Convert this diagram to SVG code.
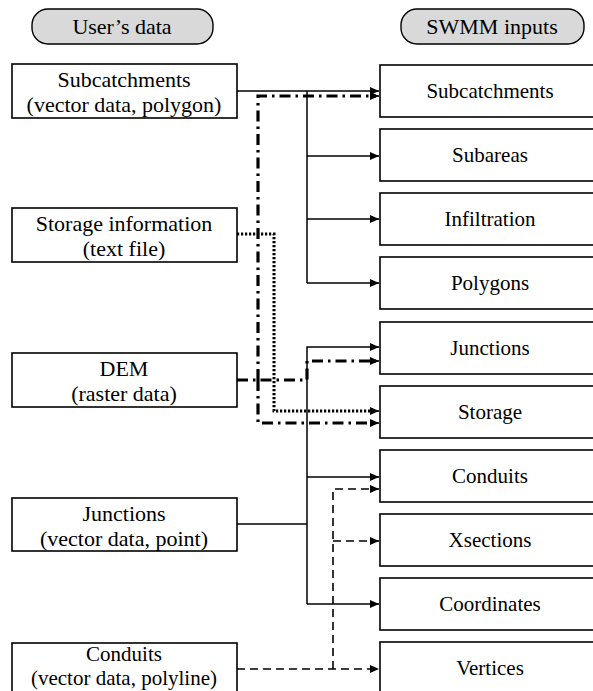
<svg xmlns="http://www.w3.org/2000/svg" width="593" height="691" viewBox="0 0 593 691">
<style>
text{font-family:"Liberation Serif","Times New Roman",serif;font-size:21px;fill:#000;text-anchor:middle}
.l{font-size:22px}
.box{fill:#fff;stroke:#000;stroke-width:1.6}
.pill{fill:#d9d9d9;stroke:#000;stroke-width:1.4}
.solid{fill:none;stroke:#000;stroke-width:1.5}
.dash{fill:none;stroke:#000;stroke-width:1.6;stroke-dasharray:8 5}
.dashdot{fill:none;stroke:#000;stroke-width:3.2;stroke-dasharray:11 5 2.5 5}
.dot{fill:none;stroke:#000;stroke-width:3;stroke-dasharray:2.2 1.8}
.arr{fill:none;stroke:#000;stroke-width:1.5}
</style>
<defs>
<marker id="ah" markerUnits="userSpaceOnUse" markerWidth="9" markerHeight="8" refX="9" refY="4" orient="auto">
<path d="M0,0 L9,4 L0,8 z" fill="#000"/>
</marker>
</defs>
<rect width="593" height="691" fill="#fff"/>
<g id="hdr-user"><rect class="pill" x="32" y="9" width="181" height="35" rx="16"/><text class="l" x="122" y="34">User’s data</text></g>
<g id="hdr-swmm"><rect class="pill" x="401" y="9" width="183" height="35" rx="16"/><text class="l" x="492" y="34">SWMM inputs</text></g>

<g id="connectors">
<path class="solid" d="M237,91 H379" marker-end="url(#ah)"/>
<path class="solid" d="M307,91 V283"/>
<path class="solid" d="M307,156 H379" marker-end="url(#ah)"/>
<path class="solid" d="M307,219 H379" marker-end="url(#ah)"/>
<path class="solid" d="M307,283 H379" marker-end="url(#ah)"/>
<path class="solid" d="M237,524 H307"/>
<path class="solid" d="M307,604 V347 H379" marker-end="url(#ah)"/>
<path class="solid" d="M307,477 H379" marker-end="url(#ah)"/>
<path class="solid" d="M307,604 H379" marker-end="url(#ah)"/>
<path class="dash" d="M237,669 H379" marker-end="url(#ah)"/>
<path class="dash" d="M333,669 V489 H379" marker-end="url(#ah)"/>
<path class="dash" d="M333,541 H379" marker-end="url(#ah)"/>
<path class="dot" d="M237,234 H274 V411 H376"/>
<path class="arr" d="M370,411 H379" marker-end="url(#ah)"/>
<path class="dashdot" d="M237,380 H307 V361 H376"/>
<path class="dashdot" d="M258,380 V96 H376"/>
<path class="dashdot" d="M258,380 V423 H376"/>
<path class="arr" d="M370,361 H379" marker-end="url(#ah)"/>
<path class="arr" d="M370,96 H379" marker-end="url(#ah)"/>
<path class="arr" d="M370,423 H379" marker-end="url(#ah)"/>
</g>

<g id="u-subcatchments"><rect class="box" x="12" y="64" width="225" height="54"/><text class="l" x="124" y="87">Subcatchments</text><text class="l" x="124" y="112">(vector data, polygon)</text></g>
<g id="u-storage"><rect class="box" x="12" y="208" width="225" height="54"/><text class="l" x="124" y="231">Storage information</text><text class="l" x="124" y="256">(text file)</text></g>
<g id="u-dem"><rect class="box" x="12" y="353" width="225" height="54"/><text class="l" x="124" y="376">DEM</text><text class="l" x="124" y="401">(raster data)</text></g>
<g id="u-junctions"><rect class="box" x="12" y="498" width="225" height="53"/><text class="l" x="124" y="521">Junctions</text><text class="l" x="124" y="546">(vector data, point)</text></g>
<g id="u-conduits"><rect class="box" x="12" y="643" width="225" height="60"/><text x="124" y="661">Conduits</text><text x="124" y="685">(vector data, polyline)</text></g>

<g id="s-subcatchments"><rect class="box" x="380" y="65" width="216" height="52"/><text x="490" y="98">Subcatchments</text></g>
<g id="s-subareas"><rect class="box" x="380" y="129" width="216" height="52"/><text x="490" y="162">Subareas</text></g>
<g id="s-infiltration"><rect class="box" x="380" y="193" width="216" height="52"/><text x="490" y="226">Infiltration</text></g>
<g id="s-polygons"><rect class="box" x="380" y="257" width="216" height="52"/><text x="490" y="290">Polygons</text></g>
<g id="s-junctions"><rect class="box" x="380" y="322" width="216" height="52"/><text x="490" y="355">Junctions</text></g>
<g id="s-storage"><rect class="box" x="380" y="386" width="216" height="52"/><text x="490" y="419">Storage</text></g>
<g id="s-conduits"><rect class="box" x="380" y="450" width="216" height="52"/><text x="490" y="483">Conduits</text></g>
<g id="s-xsections"><rect class="box" x="380" y="514" width="216" height="52"/><text x="490" y="547">Xsections</text></g>
<g id="s-coordinates"><rect class="box" x="380" y="578" width="216" height="52"/><text x="490" y="611">Coordinates</text></g>
<g id="s-vertices"><rect class="box" x="380" y="642" width="216" height="60"/><text x="490" y="675">Vertices</text></g>
</svg>
